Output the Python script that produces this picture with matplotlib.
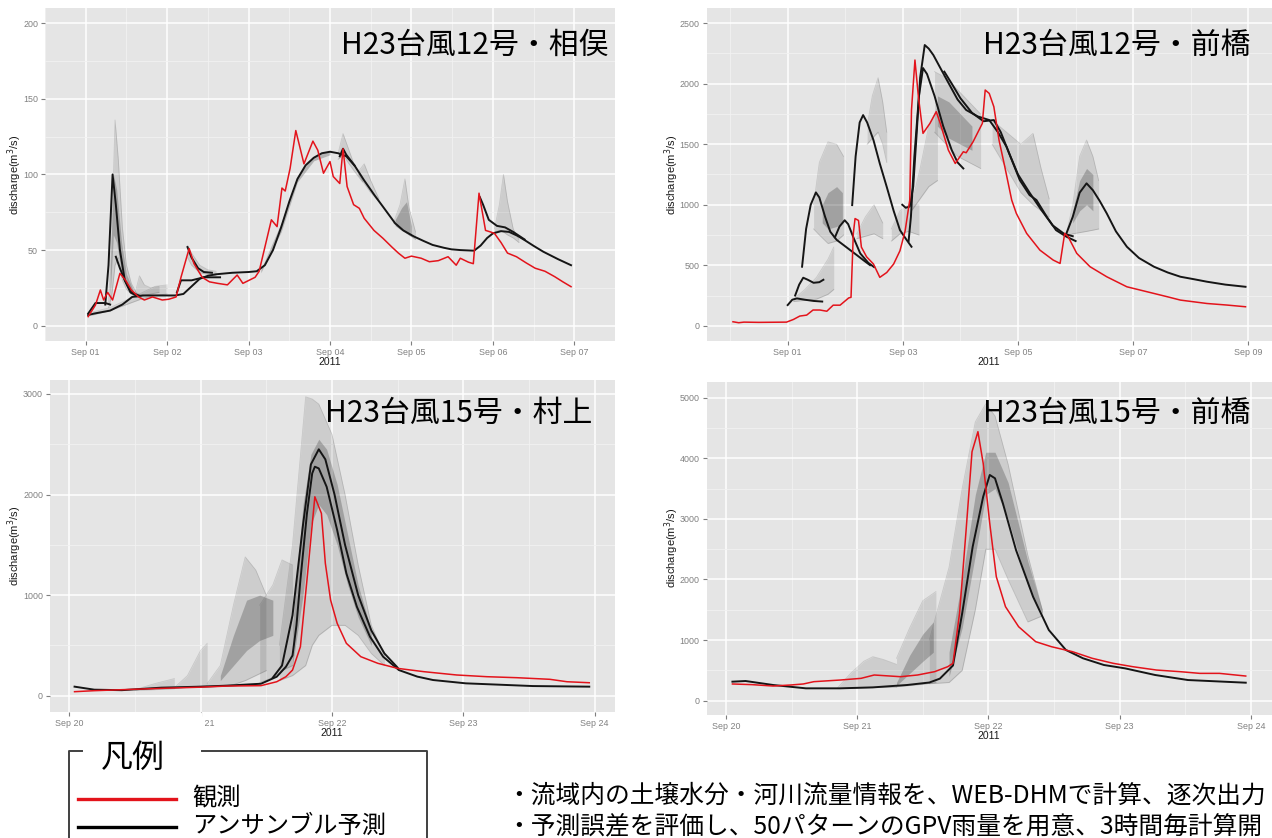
import matplotlib
matplotlib.use("Agg")
import matplotlib.pyplot as plt
import numpy as np

# ---- data (days from the first tick date) ----
# H23 typhoon 12, Aimata  (day 0 = Sep 01)
obs1 = [(0.03, 6), (0.12, 13.7), (0.18, 23.6), (0.22, 17), (0.27, 22), (0.33, 17), (0.42, 34.6),
        (0.49, 30), (0.56, 23.6), (0.65, 19), (0.72, 17), (0.82, 19), (0.94, 17), (1.02, 17.5),
        (1.11, 19), (1.17, 32), (1.27, 51), (1.33, 41), (1.43, 32), (1.52, 29), (1.62, 28),
        (1.74, 27), (1.86, 33.5), (1.93, 28), (2.08, 32), (2.13, 36), (2.28, 70), (2.35, 65.5),
        (2.41, 91), (2.45, 89), (2.51, 104), (2.58, 129), (2.68, 107), (2.79, 122), (2.85, 116),
        (2.92, 100.8), (3.0, 108.5), (3.04, 98.6), (3.12, 94), (3.16, 117), (3.21, 92), (3.29, 80),
        (3.36, 77.6), (3.42, 71), (3.54, 63), (3.65, 57.8), (3.76, 52), (3.84, 48), (3.92, 44.6),
        (4.0, 46), (4.12, 44.6), (4.22, 42.3), (4.33, 43), (4.45, 45.6), (4.55, 40), (4.6, 44.6),
        (4.7, 42), (4.76, 41), (4.83, 87.6), (4.91, 63), (4.97, 62), (5.02, 61), (5.1, 55),
        (5.18, 48), (5.29, 45.6), (5.41, 41.5), (5.52, 38), (5.64, 36), (5.76, 32.4), (5.86, 29),
        (5.96, 25.8)]
fc1 = [
    [(0.03, 7), (0.1, 8), (0.3, 10), (0.45, 14), (0.57, 19), (0.7, 20), (0.9, 20), (1.1, 20),
     (1.2, 21), (1.3, 26), (1.4, 31), (1.5, 33), (1.6, 34), (1.8, 35), (2.0, 35.5), (2.1, 36),
     (2.2, 40), (2.3, 50), (2.4, 65), (2.5, 82), (2.6, 97), (2.7, 106), (2.8, 111), (2.9, 114),
     (3.0, 115), (3.1, 114), (3.2, 112), (3.3, 106), (3.42, 96), (3.55, 86), (3.65, 78.7),
     (3.8, 67.7), (3.9, 63), (4.03, 59), (4.15, 56), (4.26, 53.4), (4.4, 51.5), (4.49, 50.5),
     (4.6, 50), (4.77, 49.6), (4.85, 53), (4.93, 58), (5.0, 61), (5.1, 62.5), (5.2, 62),
     (5.3, 59.5), (5.39, 56.6), (5.5, 52.8), (5.62, 48.9), (5.8, 44), (5.96, 40)],
    [(4.84, 85), (4.88, 80), (4.95, 70), (5.05, 66), (5.15, 65), (5.25, 62), (5.39, 57)],
    [(0.24, 14), (0.28, 40), (0.33, 100), (0.37, 80), (0.42, 50), (0.48, 30), (0.55, 22), (0.62, 20)],
    [(0.37, 45.6), (0.42, 38), (0.48, 30), (0.56, 22), (0.65, 20)],
    [(0.03, 8), (0.12, 15), (0.24, 15), (0.3, 14)],
    [(1.25, 52), (1.3, 45), (1.38, 38), (1.45, 35.5), (1.55, 35)],
    [(1.12, 22), (1.17, 30), (1.3, 30), (1.45, 32), (1.65, 32)],
    [(3.12, 112), (3.16, 117), (3.2, 113), (3.3, 106)],
]
ens1 = [
    ([0.28, 0.32, 0.36, 0.4, 0.45, 0.5, 0.56, 0.62, 0.68], [12, 20, 40, 45, 30, 24, 21, 19, 19],
     [15, 60, 136, 110, 65, 40, 28, 22, 20]),
    ([0.08, 0.3, 0.5, 0.7, 0.85, 1.0], [7, 10, 14, 18, 20, 21], [9, 12, 17, 22, 26, 27]),
    ([0.6, 0.66, 0.72, 0.8, 0.9], [19, 19, 20, 21, 22], [20, 33, 27, 25, 26]),
    ([1.25, 1.3, 1.4, 1.5, 1.6], [45, 40, 35, 34, 33], [53, 48, 40, 37, 36]),
    ([3.1, 3.16, 3.22, 3.3, 3.4], [110, 113, 108, 102, 95], [114, 127, 118, 106, 97]),
    ([3.35, 3.42, 3.5, 3.6], [100, 94, 88, 82], [102, 107, 96, 84]),
    ([3.78, 3.86, 3.92, 3.97, 4.05], [68, 64, 62, 60, 57], [68, 80, 97, 78, 62]),
    ([5.02, 5.08, 5.13, 5.18, 5.25, 5.32], [62, 63, 62, 60, 58, 55], [64, 80, 100, 82, 64, 57]),
]
core1 = [
    ([0.3, 0.34, 0.38, 0.44, 0.5, 0.58], [20, 60, 55, 35, 26, 21], [35, 100, 90, 55, 34, 24]),
    ([2.15, 2.4, 2.6, 2.8, 3.0], [35, 62, 95, 109, 113], [37, 68, 99, 112, 116]),
    ([3.8, 3.88, 3.94, 4.0], [66, 63, 61, 59], [70, 78, 82, 66]),
]

# H23 typhoon 12, Maebashi  (day 0 = Sep 01)
obs2 = [(-0.95, 33), (-0.85, 25), (-0.76, 30), (-0.5, 28), (-0.02, 30), (0.1, 52), (0.21, 80),
        (0.33, 88), (0.44, 130), (0.56, 130), (0.68, 120), (0.79, 170), (0.91, 170), (1.06, 230),
        (1.1, 235), (1.14, 763), (1.17, 886), (1.23, 870), (1.28, 650), (1.37, 570), (1.49, 510),
        (1.6, 400), (1.72, 440), (1.84, 510), (1.95, 620), (2.04, 785), (2.12, 1039), (2.15, 1783),
        (2.21, 2196), (2.27, 1893), (2.35, 1590), (2.47, 1672), (2.58, 1769), (2.65, 1672),
        (2.79, 1452), (2.91, 1341), (3.05, 1438), (3.1, 1430), (3.22, 1521), (3.38, 1672),
        (3.43, 1948), (3.5, 1920), (3.58, 1810), (3.67, 1534), (3.77, 1314), (3.89, 1039),
        (3.97, 929), (4.15, 763), (4.38, 625), (4.61, 543), (4.73, 515), (4.81, 763), (4.87, 736),
        (5.02, 598), (5.25, 488), (5.54, 405), (5.89, 322), (6.24, 281), (6.59, 240), (6.82, 212),
        (7.28, 184), (7.63, 171), (7.95, 157)]
fc2 = [
    [(0.0, 171), (0.08, 215), (0.16, 226), (0.3, 215), (0.45, 205), (0.6, 200)],
    [(0.13, 250), (0.2, 340), (0.27, 397), (0.35, 380), (0.45, 355), (0.55, 360), (0.62, 380)],
    [(0.25, 488), (0.32, 800), (0.4, 1000), (0.49, 1102), (0.55, 1060), (0.65, 900), (0.74, 777),
     (0.85, 710), (0.97, 667), (1.1, 620), (1.2, 584), (1.32, 540), (1.43, 501)],
    [(0.82, 730), (0.9, 820), (0.99, 872), (1.05, 840), (1.15, 720), (1.26, 598), (1.4, 520),
     (1.5, 485)],
    [(1.12, 997), (1.18, 1400), (1.25, 1680), (1.31, 1741), (1.38, 1680), (1.49, 1534),
     (1.6, 1340), (1.72, 1148), (1.84, 950), (1.95, 790), (2.05, 720), (2.15, 653)],
    [(1.99, 1000), (2.05, 975), (2.12, 985), (2.18, 1150), (2.24, 1590), (2.3, 2050), (2.38, 2320),
     (2.45, 2290), (2.53, 2237), (2.64, 2140), (2.8, 2000), (2.95, 1870), (3.1, 1783),
     (3.3, 1730), (3.5, 1700), (3.65, 1600), (3.8, 1480), (4.03, 1204), (4.2, 1080), (4.32, 1039),
     (4.5, 900), (4.66, 790), (4.84, 736), (5.0, 700)],
    [(2.1, 700), (2.14, 900), (2.2, 1400), (2.28, 1900), (2.35, 2130), (2.42, 2080), (2.55, 1900),
     (2.7, 1650), (2.85, 1450), (2.95, 1350), (3.05, 1300)],
    [(2.72, 2100), (2.85, 2000), (3.0, 1880), (3.2, 1760), (3.4, 1690), (3.58, 1700), (3.7, 1600),
     (3.85, 1420), (4.0, 1250), (4.2, 1100), (4.4, 960), (4.6, 830), (4.8, 760), (4.95, 740)],
    [(4.84, 763), (4.95, 900), (5.07, 1100), (5.19, 1177), (5.3, 1120), (5.42, 1030), (5.54, 929),
     (5.7, 780), (5.89, 653), (6.1, 560), (6.36, 488), (6.6, 440), (6.82, 405), (7.05, 385),
     (7.28, 364), (7.6, 340), (7.95, 322)],
]
ens2 = [
    ([0.1, 0.3, 0.5, 0.7, 0.8], [200, 210, 220, 260, 300], [220, 300, 400, 550, 650]),
    ([0.45, 0.55, 0.7, 0.85, 0.97], [800, 750, 680, 700, 750], [1000, 1350, 1520, 1500, 1400]),
    ([1.2, 1.35, 1.5, 1.65], [720, 740, 760, 720], [760, 900, 1000, 850]),
    ([1.38, 1.47, 1.57, 1.65, 1.72], [1500, 1550, 1600, 1500, 1350], [1650, 1900, 2050, 1850, 1600]),
    ([1.8, 1.95, 2.1, 2.28], [700, 760, 780, 750], [800, 950, 1000, 1000]),
    ([2.15, 2.3, 2.45, 2.6], [950, 1050, 1150, 1200], [1000, 1300, 1650, 1800]),
    ([2.55, 2.75, 2.95, 3.15, 3.35], [1600, 1500, 1400, 1350, 1300], [2100, 2050, 1950, 1850, 1750]),
    ([3.55, 3.8, 4.05, 4.26, 4.4, 4.54], [1500, 1300, 1100, 1000, 950, 900],
     [1700, 1600, 1500, 1590, 1300, 1050]),
    ([4.84, 4.95, 5.07, 5.19, 5.3, 5.4], [740, 760, 770, 780, 790, 800],
     [760, 1000, 1400, 1535, 1400, 1200]),
]
core2 = [
    ([0.6, 0.7, 0.85, 0.95], [850, 800, 820, 850], [1000, 1100, 1150, 1100]),
    ([2.6, 2.8, 3.0, 3.2], [1650, 1550, 1500, 1450], [1900, 1850, 1750, 1650]),
    ([4.95, 5.07, 5.19, 5.3], [850, 950, 1000, 950], [950, 1200, 1300, 1250]),
]

# H23 typhoon 15, Murakami  (day 0 = Sep 20)
obs3 = [(0.04, 40), (0.19, 50), (0.45, 62), (0.7, 73), (1.0, 85), (1.2, 96), (1.46, 100),
        (1.58, 139), (1.65, 189), (1.7, 255), (1.76, 487), (1.81, 1150), (1.87, 1978),
        (1.92, 1813), (1.95, 1316), (1.99, 951), (2.04, 720), (2.11, 521), (2.22, 388),
        (2.35, 322), (2.5, 272), (2.7, 239), (2.95, 206), (3.18, 189), (3.41, 179), (3.66, 163),
        (3.79, 139), (3.96, 129)]
fc3 = [
    [(0.04, 90), (0.19, 60), (0.4, 55), (0.7, 80), (1.0, 90), (1.2, 100), (1.46, 119),
     (1.58, 189), (1.65, 288), (1.7, 400), (1.73, 700), (1.76, 1150), (1.81, 1813), (1.85, 2211),
     (1.87, 2277), (1.9, 2260), (1.96, 2077), (2.04, 1647), (2.11, 1217), (2.19, 885),
     (2.29, 587), (2.39, 388), (2.51, 255), (2.65, 190), (2.77, 156), (3.02, 123), (3.53, 96),
     (3.96, 90)],
    [(1.55, 180), (1.62, 300), (1.7, 800), (1.78, 1700), (1.84, 2300), (1.9, 2450), (1.95, 2350),
     (2.02, 2000), (2.1, 1500), (2.2, 1000), (2.3, 650), (2.4, 420), (2.5, 280)],
]
ens3 = [
    ([0.5, 0.65, 0.8], [55, 60, 70], [60, 120, 170]),
    ([0.8, 0.9, 1.0, 1.05], [75, 85, 95, 100], [80, 200, 450, 520]),
    ([1.05, 1.15, 1.25, 1.34, 1.42, 1.5], [95, 100, 110, 150, 200, 250],
     [120, 300, 900, 1380, 1250, 1000]),
    ([1.45, 1.55, 1.62, 1.7], [130, 180, 250, 300], [900, 1100, 1350, 1300]),
    ([1.6, 1.7, 1.8, 1.85, 1.9, 2.0, 2.1, 2.2, 2.3, 2.4], [150, 200, 300, 500, 600, 700, 700, 600, 420, 300],
     [500, 1500, 2972, 2950, 2900, 2600, 2000, 1300, 700, 400]),
]
core3 = [
    ([1.7, 1.78, 1.84, 1.9, 1.96, 2.04, 2.12, 2.2, 2.3], [300, 1000, 1700, 1900, 1800, 1500, 1100, 780, 500],
     [700, 1900, 2400, 2550, 2450, 2100, 1600, 1100, 650]),
    ([1.15, 1.25, 1.35, 1.45, 1.55], [150, 300, 450, 550, 600], [200, 600, 950, 1000, 950]),
]

# H23 typhoon 15, Maebashi  (day 0 = Sep 20)
obs4 = [(0.05, 276), (0.2, 265), (0.36, 242), (0.5, 260), (0.59, 276), (0.67, 314), (0.87, 341),
        (1.03, 369), (1.13, 424), (1.33, 396), (1.46, 424), (1.59, 479), (1.69, 561), (1.73, 617),
        (1.78, 1442), (1.83, 2817), (1.875, 4109), (1.92, 4439), (1.96, 3917), (2.01, 2927),
        (2.06, 2046), (2.13, 1551), (2.23, 1221), (2.36, 974), (2.48, 891), (2.64, 809),
        (2.79, 700), (2.95, 617), (3.1, 561), (3.28, 506), (3.46, 479), (3.61, 451), (3.76, 451),
        (3.96, 407)]
fc4 = [
    [(0.05, 314), (0.15, 325), (0.36, 259), (0.61, 204), (0.87, 204), (1.12, 220), (1.38, 259),
     (1.55, 300), (1.63, 364), (1.73, 581), (1.8, 1442), (1.88, 2541), (1.96, 3367), (2.01, 3725),
     (2.05, 3670), (2.11, 3257), (2.21, 2487), (2.34, 1716), (2.46, 1166), (2.59, 837),
     (2.72, 700), (2.88, 589), (3.04, 534), (3.27, 424), (3.52, 341), (3.96, 297)],
]
ens4 = [
    ([0.85, 0.95, 1.05, 1.12, 1.2, 1.3], [200, 205, 210, 215, 220, 225], [210, 450, 650, 726, 680, 600]),
    ([1.3, 1.4, 1.5, 1.6], [230, 250, 270, 300], [700, 1200, 1650, 1800]),
    ([1.55, 1.7, 1.8, 1.9, 1.98, 2.05, 2.15, 2.3, 2.41], [280, 300, 500, 1500, 2500, 2500, 2000, 1300, 1400],
     [1000, 2200, 3500, 4600, 4900, 4700, 3900, 2400, 1500]),
]
core4 = [
    ([1.7, 1.8, 1.9, 1.98, 2.05, 2.15, 2.3, 2.41], [400, 1200, 2400, 3400, 3500, 3000, 1900, 1440],
     [800, 2000, 3400, 4100, 4100, 3600, 2300, 1500]),
    ([1.3, 1.4, 1.5, 1.58], [250, 450, 650, 800], [300, 750, 1100, 1300]),
]

titles = ["H23台風12号・相俣", "H23台風12号・前橋", "H23台風15号・村上", "H23台風15号・前橋"]
xt1 = ["Sep 01", "Sep 02", "Sep 03", "Sep 04", "Sep 05", "Sep 06", "Sep 07"]
xt2 = ["Sep 01", "Sep 03", "Sep 05", "Sep 07", "Sep 09"]
xt3 = ["Sep 20", "Sep 21", "Sep 22", "Sep 23", "Sep 24"]
legend_labels = ["観測", "アンサンブル予測"]
notes = ["・流域内の土壌水分・河川流量情報を、WEB-DHMで計算、逐次出力",
         "・予測誤差を評価し、50パターンのGPV雨量を用意、3時間毎計算開"]

JP = ["Noto Sans CJK JP", "DejaVu Sans"]
plt.rcParams["font.family"] = ["Liberation Sans", "DejaVu Sans"]

W, H = 1272, 838
fig = plt.figure(figsize=(W / 100, H / 100), dpi=100)
fig.patch.set_facecolor("white")


def px_rect(x0, y0, x1, y1):
    return [x0 / W, 1 - y1 / H, (x1 - x0) / W, (y1 - y0) / H]


panels = [
    dict(rect=px_rect(45, 8, 615, 341), xlim=(-0.26, 6.26), ylim=(-10.1, 210),
         xt=np.arange(7), xl=xt1, xm=np.arange(-0.5, 7, 1.0),
         yt=np.arange(0, 201, 50), ym=np.arange(25, 200, 50),
         obs=obs1, fc=fc1, ens=ens1, core=core1),
    dict(rect=px_rect(706.7, 8, 1272, 341), xlim=(-1.406, 8.41), ylim=(-126, 2626),
         xt=np.arange(0, 9, 2), xl=xt2, xm=np.arange(-1, 9, 2),
         yt=np.arange(0, 2501, 500), ym=np.arange(250, 2500, 500),
         obs=obs2, fc=fc2, ens=ens2, core=core2),
    dict(rect=px_rect(50, 380, 615, 711.7), xlim=(-0.147, 4.156), ylim=(-159, 3139),
         xt=np.arange(5), xl=xt3, xm=np.arange(0.5, 4, 1.0),
         yt=np.arange(0, 3001, 1000), ym=np.arange(500, 3000, 1000),
         obs=obs3, fc=fc3, ens=ens3, core=core3),
    dict(rect=px_rect(706.7, 381.7, 1272, 715), xlim=(-0.146, 4.16), ylim=(-236, 5264),
         xt=np.arange(5), xl=xt3, xm=np.arange(0.5, 4, 1.0),
         yt=np.arange(0, 5001, 1000), ym=np.arange(500, 5000, 1000),
         obs=obs4, fc=fc4, ens=ens4, core=core4),
]

for p in panels:
    ax = fig.add_axes(p["rect"])
    ax.set_facecolor("#E5E5E5")
    for s in ax.spines.values():
        s.set_visible(False)
    ax.set_xlim(*p["xlim"])
    ax.set_ylim(*p["ylim"])
    ax.set_xticks(p["xt"])
    ax.set_xticklabels(p["xl"])
    ax.set_xticks(p["xm"], minor=True)
    ax.set_yticks(p["yt"])
    ax.set_yticks(p["ym"], minor=True)
    ax.tick_params(which="major", length=3, width=0.8, color="#7F7F7F",
                   labelsize=6.4, labelcolor="#808080", pad=2)
    ax.tick_params(which="minor", length=0)
    ax.grid(which="major", color="white", lw=1.1)
    ax.grid(which="minor", color="#F2F2F2", lw=0.6)
    ax.set_axisbelow(True)

    # ensemble spread: faint outer envelope, denser core
    for t, lo, hi in p["ens"]:
        ax.fill_between(t, lo, hi, color="#303030", alpha=0.13, lw=0)
        ax.plot(t, lo, color="#404040", alpha=0.22, lw=0.6)
        ax.plot(t, hi, color="#404040", alpha=0.18, lw=0.6)
    for t, lo, hi in p["core"]:
        ax.fill_between(t, lo, hi, color="#202020", alpha=0.25, lw=0)

    ot, ov = zip(*p["obs"])
    ax.plot(ot, ov, color="#E3131B", lw=1.1, zorder=5)
    for line in p["fc"]:
        lt, lv = zip(*line)
        ax.plot(lt, lv, color="#151515", lw=1.4, zorder=4)

# overlay in pixel coordinates for titles, labels, legend and notes
ov_ax = fig.add_axes([0, 0, 1, 1], zorder=10)
ov_ax.set_xlim(0, W)
ov_ax.set_ylim(H, 0)
ov_ax.axis("off")
ov_ax.patch.set_alpha(0)

title_pos = [(608, 45), (1250, 45), (592, 413), (1250, 413)]
for (x, y), s in zip(title_pos, titles):
    ov_ax.text(x, y, s, ha="right", va="center", fontsize=21.5, family=JP, color="black")

for x, y in [(15, 175), (672, 175), (15, 546), (672, 548)]:
    ov_ax.text(x, y, "discharge(m$^3$/s)", rotation=90, ha="center", va="center",
               fontsize=8, color="#1a1a1a")
for x, y in [(330, 362), (989, 362), (332, 733), (989, 736)]:
    ov_ax.text(x, y, "2011", ha="center", va="center", fontsize=7.5, color="#1a1a1a")

# legend box
ov_ax.add_patch(plt.Rectangle((84, 713), 117, 36, color="white", zorder=1))
ov_ax.plot([82, 69, 69], [750.6, 750.6, H], color="#404040", lw=1.4)
ov_ax.plot([202, 426.5, 426.5], [750.6, 750.6, H], color="#404040", lw=1.4)
ov_ax.text(133, 758, "凡例", ha="center", va="center", fontsize=23, family=JP, zorder=3)
ov_ax.plot([77.5, 176], [798.8, 798.8], color="#E3131B", lw=2.4)
ov_ax.plot([77.5, 176], [827, 827], color="black", lw=2.4)
ov_ax.text(192, 798, legend_labels[0], ha="left", va="center", fontsize=17.5, family=JP)
ov_ax.text(192, 826, legend_labels[1], ha="left", va="center", fontsize=17.5, family=JP)

ov_ax.text(506, 796, notes[0], ha="left", va="center", fontsize=17.8, family=JP)
ov_ax.text(506, 826, notes[1], ha="left", va="center", fontsize=17.8, family=JP)

fig.savefig("out.png", dpi=100)
